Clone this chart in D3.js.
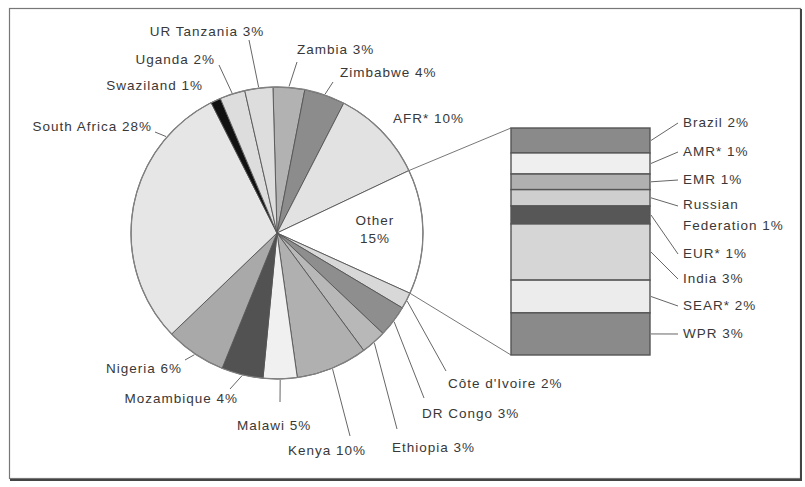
<!DOCTYPE html>
<html>
<head>
<meta charset="utf-8">
<script src="https://cdn.jsdelivr.net/npm/d3@7"></script>
<style>
  body { margin: 0; background: #fff; }
  svg text { font-family: "Liberation Sans", Arial, sans-serif; font-size: 13.5px; fill: #383838; letter-spacing: 1px; }
</style>
</head>
<body>
<div id="chart"></div>
<script>
// Pie slices, clockwise from 12 o'clock
const pieNames = ["Zambia", "Zimbabwe", "AFR*", "Other", "Côte d'Ivoire", "DR Congo", "Ethiopia", "Kenya",
  "Malawi", "Mozambique", "Nigeria", "South Africa", "Swaziland", "Uganda", "UR Tanzania"];
const pieShares = [3.5, 4.5, 10.4, 13.8, 1.8, 3.5, 2.8, 7.9, 3.75, 4.6, 6.7, 29.7, 1.1, 2.8, 3.1];
const pieLabels = ["3%", "4%", "10%", "15%", "2%", "3%", "3%", "10%", "5%", "4%", "6%", "28%", "1%", "2%", "3%"];
const pieFills = ["#b2b2b2", "#8c8c8c", "#e2e2e2", "#ffffff", "#d8d8d8", "#8e8e8e", "#b8b8b8", "#b0b0b0",
  "#f0f0f0", "#525252", "#a9a9a9", "#e6e6e6", "#111111", "#dddddd", "#dddddd"];

// "Other" broken down in the stacked bar, top to bottom
const otherNames = ["Brazil", "AMR*", "EMR", "Russian Federation", "EUR*", "India", "SEAR*", "WPR"];
const otherShares = [1.6, 1.35, 1.0, 1.05, 1.15, 3.6, 2.1, 2.7];
const otherLabels = ["2%", "1%", "1%", "1%", "1%", "3%", "2%", "3%"];
const otherFills = ["#8a8a8a", "#efefef", "#b0b0b0", "#cfcfcf", "#575757", "#d6d6d6", "#ececec", "#8a8a8a"];

const W = 805, H = 487;
const cx = 277, cy = 233, R = 146;
const startDeg = -1.6;

const svg = d3.select("#chart").append("svg")
  .attr("width", W).attr("height", H);

// frame
svg.append("rect")
  .attr("x", 9.5).attr("y", 8.5).attr("width", 791).attr("height", 470)
  .attr("fill", "none").attr("stroke", "#777").attr("stroke-width", 1.2);
svg.append("path")
  .attr("d", `M801,9 V480 H10`)
  .attr("fill", "none").attr("stroke", "#444").attr("stroke-width", 2);

const rad = d => d * Math.PI / 180;
const pie = d3.pie().sort(null).value(d => d)
  .startAngle(rad(startDeg)).endAngle(rad(startDeg + 360));
const arcs = pie(pieShares);
const arc = d3.arc().innerRadius(0).outerRadius(R);

const g = svg.append("g").attr("transform", `translate(${cx},${cy})`);
g.selectAll("path.slice")
  .data(arcs)
  .join("path")
  .attr("class", "slice")
  .attr("d", arc)
  .attr("fill", (d, i) => pieFills[i])
  .attr("stroke", "#555")
  .attr("stroke-width", 0.9)
  .attr("stroke-linejoin", "round");
g.append("circle").attr("r", R).attr("fill", "none")
  .attr("stroke", "#808080").attr("stroke-width", 1.3);

const polar = (a, r) => [cx + r * Math.sin(a), cy - r * Math.cos(a)];

// label layout: leader end point, text position and anchor (null leader = no line)
const pieLayout = {
  "Zambia":        { end: [297, 62],  text: [297, 54],  anchor: "start" },
  "Zimbabwe":      { end: [333, 82],  text: [340, 77],  anchor: "start" },
  "AFR*":          { end: null,       text: [393, 123], anchor: "start" },
  "Côte d'Ivoire": { end: [446, 371], text: [448, 388], anchor: "start" },
  "DR Congo":      { end: [424, 398], text: [422, 418], anchor: "start" },
  "Ethiopia":      { end: [397, 429], text: [392, 452], anchor: "start" },
  "Kenya":         { end: [350, 436], text: [288, 455], anchor: "start" },
  "Malawi":        { end: [280, 402], text: [237, 430], anchor: "start" },
  "Mozambique":    { end: [230, 389], text: [238, 403], anchor: "end" },
  "Nigeria":       { end: [185, 360], text: [182, 373], anchor: "end" },
  "South Africa":  { end: [155, 132], text: [152, 131], anchor: "end", angle: 311 },
  "Swaziland":     { end: null,       text: [203, 90],  anchor: "end" },
  "Uganda":        { end: [219, 65],  text: [215, 64],  anchor: "end" },
  "UR Tanzania":   { end: [249, 40],  text: [207, 36],  anchor: "middle" }
};

arcs.forEach((d, i) => {
  const name = pieNames[i];
  if (name === "Other") {
    const [ox, oy] = arc.centroid(d);
    const t = svg.append("text").attr("text-anchor", "middle");
    t.append("tspan").attr("x", cx + ox * 1.3 + 3).attr("y", cy + oy * 1.3 - 7).text("Other");
    t.append("tspan").attr("x", cx + ox * 1.3 + 3).attr("y", cy + oy * 1.3 + 11).text(pieLabels[i]);
    return;
  }
  const lay = pieLayout[name];
  if (lay.end) {
    const a = lay.angle !== undefined ? rad(lay.angle) : (d.startAngle + d.endAngle) / 2;
    const p = polar(a, R + 1);
    svg.append("line")
      .attr("x1", p[0]).attr("y1", p[1]).attr("x2", lay.end[0]).attr("y2", lay.end[1])
      .attr("stroke", "#666").attr("stroke-width", 1);
  }
  svg.append("text")
    .attr("x", lay.text[0]).attr("y", lay.text[1])
    .attr("text-anchor", lay.anchor)
    .text(`${name} ${pieLabels[i]}`);
});

// stacked bar for "Other"
const barX = 511, barW = 139;
const y = d3.scaleLinear().domain([0, d3.sum(otherShares)]).range([128, 355]);
let acc = 0;
const stack = otherShares.map(v => { const s = { y0: acc, y1: acc + v }; acc += v; return s; });

const otherArc = arcs[pieNames.indexOf("Other")];
const pTop = polar(otherArc.startAngle, R);
const pBot = polar(otherArc.endAngle, R);
svg.append("line").attr("x1", pTop[0]).attr("y1", pTop[1]).attr("x2", barX).attr("y2", y(0))
  .attr("stroke", "#777").attr("stroke-width", 1);
svg.append("line").attr("x1", pBot[0]).attr("y1", pBot[1]).attr("x2", barX).attr("y2", y(acc))
  .attr("stroke", "#777").attr("stroke-width", 1);

svg.selectAll("rect.seg")
  .data(stack)
  .join("rect")
  .attr("class", "seg")
  .attr("x", barX).attr("width", barW)
  .attr("y", d => y(d.y0)).attr("height", d => y(d.y1) - y(d.y0))
  .attr("fill", (d, i) => otherFills[i])
  .attr("stroke", "#555").attr("stroke-width", 1.4);

// bar labels: text baseline for each segment
const barTextY = [127, 156, 184, 209, 258, 283, 310, 338];
stack.forEach((d, i) => {
  const midY = (y(d.y0) + y(d.y1)) / 2;
  const ty = barTextY[i];
  const endY = otherNames[i] === "Russian Federation" ? ty - 3 : ty - 4;
  svg.append("line")
    .attr("x1", barX + barW + 1).attr("y1", midY).attr("x2", 678).attr("y2", endY)
    .attr("stroke", "#666").attr("stroke-width", 1);
  const t = svg.append("text").attr("x", 683).attr("y", ty);
  if (otherNames[i] === "Russian Federation") {
    t.append("tspan").attr("x", 683).attr("y", ty).text("Russian");
    t.append("tspan").attr("x", 683).attr("y", ty + 21).text(`Federation ${otherLabels[i]}`);
  } else {
    t.text(`${otherNames[i]} ${otherLabels[i]}`);
  }
});
</script>
</body>
</html>
